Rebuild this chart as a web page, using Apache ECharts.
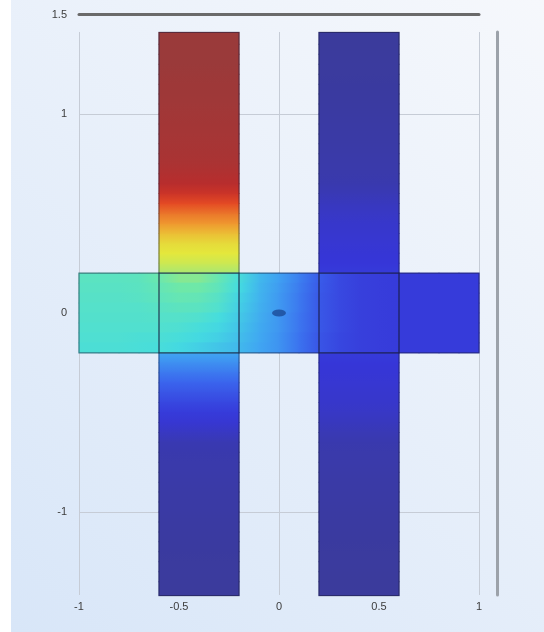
<!DOCTYPE html>
<html>
<head>
<meta charset="utf-8">
<script src="https://cdn.jsdelivr.net/npm/echarts@6/dist/echarts.min.js"></script>
<style>
  html, body { margin: 0; padding: 0; background: #ffffff; }
  #chart { position: absolute; left: 11px; top: 0; width: 533px; height: 632px; }
</style>
</head>
<body>
<div id="chart"></div>
<script>
// ---- geometry of the cross-shaped domain (model units) ----
const armTop = 1.41;
const armBottom = -1.42;
const rowStep = 0.05;   // spacing of sampled nodes along the vertical arms
const colStep = 0.1;    // spacing of sampled nodes along the horizontal bar
const crossRowEdges = [0.2, 0.15, 0.1, 0.05, 0, -0.05, -0.1, -0.15, -0.2];

// sub-domains: [x0, x1, y0, y1]
const domains = [
  [-0.6, -0.2, 0.2, armTop],
  [-0.6, -0.2, armBottom, -0.2],
  [0.2, 0.6, 0.2, armTop],
  [0.2, 0.6, armBottom, -0.2],
  [-1, -0.6, -0.2, 0.2],
  [-0.6, -0.2, -0.2, 0.2],
  [-0.2, 0.2, -0.2, 0.2],
  [0.2, 0.6, -0.2, 0.2],
  [0.6, 1, -0.2, 0.2]
];

// ---- field values at sampled nodes (normalised 0..1) ----
// left upper arm, nodes from y = 0.2 upward (last node at the arm's end)
const upperLeftArm = [0.55, 0.58, 0.60, 0.62, 0.66, 0.71, 0.75, 0.80, 0.87, 0.92, 0.94, 0.955, 0.962,
                      0.967, 0.972, 0.976, 0.98, 0.985, 0.99, 0.99, 0.995, 1, 1, 1, 1];
// left lower arm, nodes from y = -0.2 downward
const lowerLeftArm = [0.30, 0.265, 0.23, 0.195, 0.165, 0.135, 0.11, 0.09, 0.065, 0.04, 0.033, 0.03, 0.028,
                      0.025, 0.022, 0.02, 0.018, 0.016, 0.014, 0.012, 0.011, 0.01, 0.009, 0.008, 0.007];
// right upper arm, nodes from y = 0.2 upward
const upperRightArm = [0.11, 0.10, 0.095, 0.09, 0.085, 0.08, 0.07, 0.06, 0.045, 0.035, 0.03, 0.028, 0.025,
                       0.022, 0.02, 0.018, 0.016, 0.014, 0.012, 0.011, 0.01, 0.009, 0.008, 0.007, 0.006];
// right lower arm, nodes from y = -0.2 downward
const lowerRightArm = [0.11, 0.10, 0.095, 0.09, 0.085, 0.08, 0.07, 0.06, 0.045, 0.035, 0.03, 0.028, 0.025,
                       0.022, 0.02, 0.018, 0.016, 0.014, 0.012, 0.011, 0.01, 0.009, 0.008, 0.007, 0.006];
// horizontal bar, eight bands (top to bottom), nodes from x = -1 to 1
const crossRows = [
  [0.455, 0.455, 0.455, 0.46, 0.49, 0.52, 0.52, 0.48, 0.41, 0.335, 0.29, 0.24, 0.18, 0.14, 0.12, 0.115, 0.11, 0.11, 0.11, 0.11, 0.11],
  [0.45, 0.45, 0.45, 0.455, 0.475, 0.50, 0.50, 0.465, 0.40, 0.33, 0.285, 0.235, 0.175, 0.14, 0.12, 0.115, 0.11, 0.11, 0.11, 0.11, 0.11],
  [0.445, 0.445, 0.445, 0.45, 0.465, 0.48, 0.475, 0.445, 0.385, 0.325, 0.28, 0.23, 0.17, 0.14, 0.12, 0.115, 0.11, 0.11, 0.11, 0.11, 0.11],
  [0.44, 0.44, 0.44, 0.44, 0.45, 0.46, 0.455, 0.43, 0.375, 0.32, 0.28, 0.23, 0.17, 0.14, 0.12, 0.115, 0.11, 0.11, 0.11, 0.11, 0.11],
  [0.435, 0.435, 0.435, 0.435, 0.44, 0.44, 0.43, 0.405, 0.365, 0.315, 0.275, 0.225, 0.17, 0.14, 0.12, 0.115, 0.11, 0.11, 0.11, 0.11, 0.11],
  [0.43, 0.43, 0.43, 0.43, 0.43, 0.425, 0.41, 0.39, 0.355, 0.31, 0.275, 0.225, 0.17, 0.14, 0.12, 0.115, 0.11, 0.11, 0.11, 0.11, 0.11],
  [0.425, 0.425, 0.425, 0.42, 0.42, 0.41, 0.395, 0.375, 0.345, 0.305, 0.27, 0.22, 0.165, 0.135, 0.12, 0.115, 0.11, 0.11, 0.11, 0.11, 0.11],
  [0.42, 0.42, 0.42, 0.415, 0.41, 0.395, 0.375, 0.355, 0.335, 0.30, 0.27, 0.22, 0.165, 0.135, 0.12, 0.115, 0.11, 0.11, 0.11, 0.11, 0.11]
];
// point marker at the centre
const centrePoint = [[0, 0]];

// ---- axis ticks ----
const xLabelInterval = 0.5;
const yLabelInterval = 1;

// colour scale
const rainbow = ['#3b3b98', '#3636d8', '#3a66ee', '#40a6f2', '#44dce0', '#6ee8a8',
                 '#e4e83c', '#f0a030', '#e44a24', '#c02a2a', '#9a3a3a'];
const toColor = v => echarts.color.lerp(Math.max(0, Math.min(1, v)), rainbow);

// ---- build shaded cells [x0, x1, y0, y1, vStart, vEnd, axis] ----
// vStart is the value at the low-coordinate edge, vEnd at the high one
const cells = [];
function addArm(x0, x1, startY, dir, limit, nodes) {
  for (let i = 0; i < nodes.length - 1; i++) {
    const a = startY + dir * i * rowStep;
    const b = (i === nodes.length - 2) ? limit : a + dir * rowStep;
    if (dir > 0) cells.push([x0, x1, a, b, nodes[i], nodes[i + 1], 'y']);
    else cells.push([x0, x1, b, a, nodes[i + 1], nodes[i], 'y']);
  }
}
addArm(-0.6, -0.2, 0.2, 1, armTop, upperLeftArm);
addArm(-0.6, -0.2, -0.2, -1, armBottom, lowerLeftArm);
addArm(0.2, 0.6, 0.2, 1, armTop, upperRightArm);
addArm(0.2, 0.6, -0.2, -1, armBottom, lowerRightArm);
crossRows.forEach((row, r) => {
  for (let c = 0; c < row.length - 1; c++) {
    const x0 = -1 + c * colStep;
    cells.push([x0, x0 + colStep, crossRowEdges[r + 1], crossRowEdges[r], row[c], row[c + 1], 'x']);
  }
});

const labelFont = { color: '#3c3c3c', fontSize: 11, fontFamily: 'Liberation Sans, Arial, sans-serif' };

const chart = echarts.init(document.getElementById('chart'), null, { renderer: 'canvas' });
chart.setOption({
  animation: false,
  backgroundColor: {
    type: 'linear', x: 1, y: 0, x2: 0, y2: 1,
    colorStops: [{ offset: 0, color: '#f6f8fc' }, { offset: 1, color: '#d8e6f8' }]
  },
  grid: [
    { left: 68, right: 65, top: 14.5, bottom: 20.5 },   // field
    { left: 68, right: 65, top: 32, bottom: 37 },       // vertical grid lines, x labels
    { left: 68, right: 65, top: 114, bottom: 120 }      // horizontal grid lines, y labels
  ],
  xAxis: [
    { gridIndex: 0, type: 'value', min: -1, max: 1, position: 'top',
      axisLine: { show: true, onZero: false, lineStyle: { color: '#6a6a6a', width: 3 } },
      axisTick: { show: false }, axisLabel: { show: false }, splitLine: { show: false } },
    { gridIndex: 1, type: 'value', min: -1, max: 1, interval: xLabelInterval,
      axisLine: { show: false, onZero: false }, axisTick: { show: false },
      axisLabel: Object.assign({ margin: 6, formatter: v => String(v) }, labelFont),
      splitLine: { show: true, lineStyle: { color: '#c6ccd6', width: 1 } } },
    { gridIndex: 2, type: 'value', min: -1, max: 1, show: false }
  ],
  yAxis: [
    { gridIndex: 0, type: 'value', min: -1.5, max: 1.5, interval: 1.5,
      axisLine: { show: false, onZero: false }, axisTick: { show: false }, splitLine: { show: false },
      axisLabel: Object.assign({ margin: 12, formatter: v => (v === 1.5 ? '1.5' : '') }, labelFont) },
    { gridIndex: 1, type: 'value', min: -1, max: 1, position: 'right', offset: 18,
      axisLine: { show: true, onZero: false, lineStyle: { color: '#9ca2aa', width: 3 } },
      axisTick: { show: false }, axisLabel: { show: false }, splitLine: { show: false } },
    { gridIndex: 2, type: 'value', min: -1, max: 1, interval: yLabelInterval,
      axisLine: { show: false, onZero: false }, axisTick: { show: false },
      axisLabel: Object.assign({ margin: 12 }, labelFont),
      splitLine: { show: true, lineStyle: { color: '#c6ccd6', width: 1 } } }
  ],
  series: [
    {
      type: 'custom', xAxisIndex: 0, yAxisIndex: 0,
      data: cells,
      encode: { x: [0, 1], y: [2, 3] },
      renderItem(params, api) {
        const p0 = api.coord([api.value(0), api.value(3)]);
        const p1 = api.coord([api.value(1), api.value(2)]);
        const cStart = toColor(api.value(4));
        const cEnd = toColor(api.value(5));
        const alongX = api.value(6) === 'x';
        const fill = alongX
          ? new echarts.graphic.LinearGradient(0, 0, 1, 0, [{ offset: 0, color: cStart }, { offset: 1, color: cEnd }])
          : new echarts.graphic.LinearGradient(0, 1, 0, 0, [{ offset: 0, color: cStart }, { offset: 1, color: cEnd }]);
        // slight overlap hides seams between neighbouring cells
        return {
          type: 'rect',
          shape: { x: p0[0] - 0.5, y: p0[1] - 0.5, width: p1[0] - p0[0] + 1, height: p1[1] - p0[1] + 1 },
          style: { fill: fill }
        };
      }
    },
    {
      type: 'custom', xAxisIndex: 0, yAxisIndex: 0,
      data: domains,
      encode: { x: [0, 1], y: [2, 3] },
      renderItem(params, api) {
        const p0 = api.coord([api.value(0), api.value(3)]);
        const p1 = api.coord([api.value(1), api.value(2)]);
        return {
          type: 'rect',
          shape: { x: p0[0], y: p0[1], width: p1[0] - p0[0], height: p1[1] - p0[1] },
          style: { fill: 'none', stroke: 'rgba(25,28,60,0.5)', lineWidth: 1.2 }
        };
      }
    },
    {
      type: 'scatter', xAxisIndex: 0, yAxisIndex: 0,
      data: centrePoint,
      symbol: 'circle', symbolSize: [14, 7],
      itemStyle: { color: '#1c4a96' }
    }
  ]
});
</script>
</body>
</html>
